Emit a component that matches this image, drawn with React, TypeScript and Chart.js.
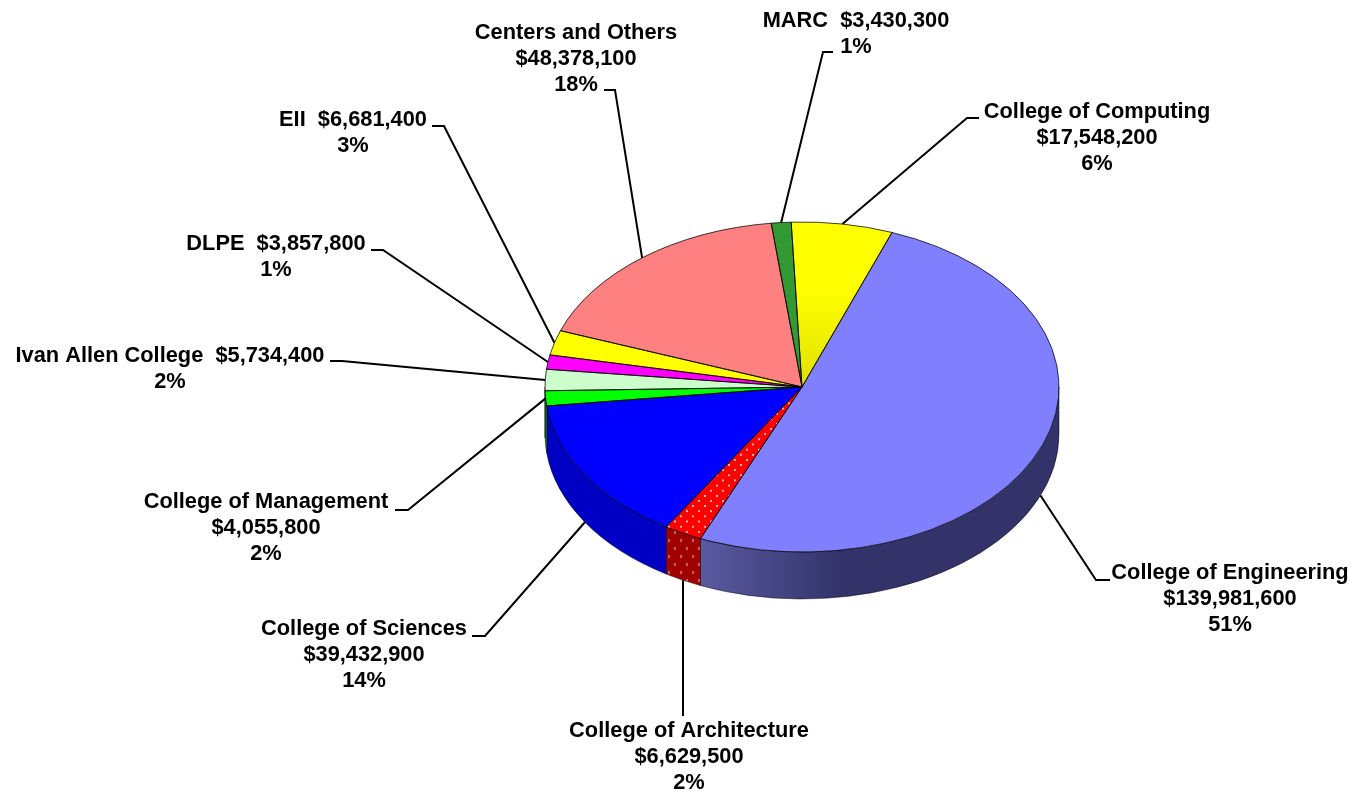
import React, { useEffect, useRef } from "react";
import { Chart, registerables } from "chart.js";

Chart.register(...registerables);

const units = ["College of Engineering", "College of Architecture", "College of Sciences", "College of Management", "Ivan Allen College", "DLPE", "EII", "Centers and Others", "MARC", "College of Computing"];
const budgets = [139981600, 6629500, 39432900, 4055800, 5734400, 3857800, 6681400, 48378100, 3430300, 17548200];
const percents = ["51%", "2%", "14%", "2%", "2%", "1%", "3%", "18%", "1%", "6%"];
const topColors = ["#8080FF", "#FF0000", "#0000FF", "#00FF00", "#CCFFCC", "#FF00FF", "#FFFF00", "#FF8080", "#339933", "#FFFF00"];
const sideColors = ["#33336A", "#A00000", "#0000C4", "#00A000", "#99BB99", "#A000A0", "#A0A000", "#A05050", "#226622", "#A0A000"];

const ROTATION = 20.5;
const SQUASH = 0.642;
const DEPTH = 47;
const FONT = 'bold 21.8px "Liberation Sans", Arial, sans-serif';
const LINE_H = 26;

// label layout, same order as units: text centre x, first line centre y, name+value on one line?, elbow points
const labelCx = [1230, 689, 364, 266, 170, 276, 353, 576, 856, 1097];
const labelY = [573, 731, 629, 502, 356, 244, 120, 33, 21, 112];
const labelInline = [false, false, false, false, true, true, true, false, true, false];
const leaderStart: number[][] = [[1110, 580], [683, 716], [472, 636], [395, 510], [330, 361], [371, 250], [432, 126], [604, 90], [833, 52], [979, 118]];
const leaderElbow: (number[] | null)[] = [[1096, 580], null, [485, 636], [408, 510], [342, 361], [383, 250], [444, 126], [615, 90], [823, 52], [967, 118]];

function money(v: number) {
  return "$" + v.toLocaleString("en-US");
}

function dotted(base: string, dot: string) {
  const c = document.createElement("canvas");
  c.width = 12;
  c.height = 16;
  const g = c.getContext("2d")!;
  g.fillStyle = base;
  g.fillRect(0, 0, 12, 16);
  g.fillStyle = dot;
  g.fillRect(2, 3, 2, 3);
  g.fillRect(8, 11, 2, 3);
  return c;
}

const pie3d = {
  id: "pie3d",
  beforeDatasetsDraw(chart: any) {
    const ctx: CanvasRenderingContext2D = chart.ctx;
    const arcs = chart.getDatasetMeta(0).data;
    ctx.save();
    arcs.forEach((arc: any, i: number) => {
      const { x, y, startAngle, endAngle, outerRadius } = arc.getProps(["x", "y", "startAngle", "endAngle", "outerRadius"], true);
      const rx = outerRadius;
      const ry = outerRadius * SQUASH;
      for (let k = -1; k <= 1; k++) {
        const a0 = Math.max(startAngle, k * 2 * Math.PI);
        const a1 = Math.min(endAngle, k * 2 * Math.PI + Math.PI);
        if (a1 <= a0) continue;
        ctx.beginPath();
        ctx.ellipse(x, y, rx, ry, 0, a0, a1);
        ctx.ellipse(x, y + DEPTH, rx, ry, 0, a1, a0, true);
        ctx.closePath();
        if (i === 0) {
          const g = ctx.createLinearGradient(x - 0.4 * rx, 0, x + 0.15 * rx, 0);
          g.addColorStop(0, "#5A5AA2");
          g.addColorStop(1, sideColors[0]);
          ctx.fillStyle = g;
        } else if (i === 1) {
          ctx.fillStyle = ctx.createPattern(dotted(sideColors[1], "#C06060"), "repeat")!;
        } else {
          ctx.fillStyle = sideColors[i];
        }
        ctx.fill();
        ctx.strokeStyle = "rgba(0,0,0,0.6)";
        ctx.lineWidth = 0.8;
        ctx.stroke();
      }
    });
    const first = arcs[0];
    ctx.restore();
    ctx.save();
    ctx.translate(0, first.y);
    ctx.scale(1, SQUASH);
    ctx.translate(0, -first.y);
  },
  afterDatasetsDraw(chart: any) {
    const ctx: CanvasRenderingContext2D = chart.ctx;
    ctx.restore();
    const arcs = chart.getDatasetMeta(0).data;
    ctx.save();
    ctx.strokeStyle = "rgba(0,0,0,0.75)";
    ctx.lineWidth = 1;
    arcs.forEach((arc: any) => {
      const { x, y, startAngle, endAngle, outerRadius } = arc.getProps(["x", "y", "startAngle", "endAngle", "outerRadius"], true);
      ctx.beginPath();
      ctx.moveTo(x, y);
      ctx.ellipse(x, y, outerRadius, outerRadius * SQUASH, 0, startAngle, endAngle);
      ctx.closePath();
      ctx.stroke();
    });
    // leader lines run from the label to the middle of each slice's rim
    ctx.strokeStyle = "#000";
    ctx.lineWidth = 2;
    arcs.forEach((arc: any, i: number) => {
      const { x, y, startAngle, endAngle, outerRadius } = arc.getProps(["x", "y", "startAngle", "endAngle", "outerRadius"], true);
      const mid = (startAngle + endAngle) / 2;
      const sy = Math.sin(mid);
      const ex = x + outerRadius * Math.cos(mid);
      const ey = y + outerRadius * SQUASH * sy + (sy > 0.2 ? DEPTH : 0);
      ctx.beginPath();
      ctx.moveTo(leaderStart[i][0], leaderStart[i][1]);
      const elbow = leaderElbow[i];
      if (elbow) ctx.lineTo(elbow[0], elbow[1]);
      ctx.lineTo(i === 1 ? leaderStart[i][0] : ex, ey);
      ctx.stroke();
    });
    ctx.fillStyle = "#000";
    ctx.font = FONT;
    ctx.textAlign = "center";
    ctx.textBaseline = "middle";
    units.forEach((name, i) => {
      const lines = labelInline[i]
        ? [name + "  " + money(budgets[i]), percents[i]]
        : [name, money(budgets[i]), percents[i]];
      lines.forEach((t, j) => ctx.fillText(t, labelCx[i], labelY[i] + j * LINE_H));
    });
    ctx.restore();
  },
};

export default function App() {
  const ref = useRef<HTMLCanvasElement>(null);
  useEffect(() => {
    const redFill = ref.current!.getContext("2d")!.createPattern(dotted("#FF0000", "#FFB0B0"), "repeat")!;
    const chart = new Chart(ref.current!, {
      type: "pie",
      data: {
        labels: units,
        datasets: [
          {
            data: budgets,
            borderWidth: 0,
            backgroundColor: (c: any) => {
              const i = c.dataIndex;
              if (i === 1) return redFill;
              const area = c.chart.chartArea;
              if (i === 9 && area) {
                const g = c.chart.ctx.createLinearGradient(0, area.top, 0, (area.top + area.bottom) / 2);
                g.addColorStop(0, "#FFFF00");
                g.addColorStop(0.4, "#FFFF00");
                g.addColorStop(1, "#E0E000");
                return g;
              }
              return topColors[i];
            },
          },
        ],
      },
      options: {
        responsive: false,
        animation: false,
        rotation: ROTATION,
        layout: { padding: { left: 545, right: 296, top: 130, bottom: 148 } },
        plugins: { legend: { display: false }, tooltip: { enabled: false } },
      } as any,
      plugins: [pie3d],
    });
    return () => chart.destroy();
  }, []);
  return (
    <canvas
      ref={ref}
      width={1355}
      height={792}
      style={{ position: "absolute", left: 0, top: 0, display: "block", width: 1355, height: 792 }}
    />
  );
}
